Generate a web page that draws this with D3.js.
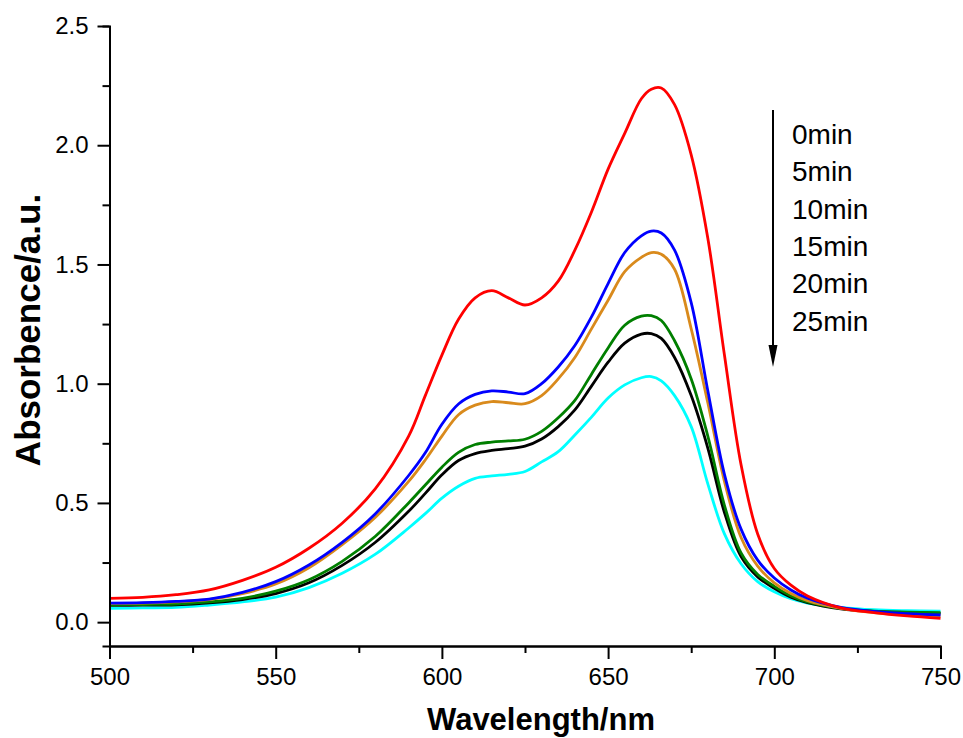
<!DOCTYPE html>
<html>
<head>
<meta charset="utf-8">
<script src="https://cdn.jsdelivr.net/npm/d3@7"></script>
<style>
  body { margin: 0; background: #fff; }
  text { font-family: "Liberation Sans", Arial, sans-serif; }
</style>
</head>
<body>
<div id="container"></div>
<script>
/* CONSTANTS AND DATA */
const width = 963,
  height = 738,
  margin = { top: 26, bottom: 92, left: 109.5, right: 22.5 };

const wavelength = [500, 510, 520, 530, 540, 550, 560, 570, 580, 590, 595, 600, 605, 610, 615, 620, 625, 630, 635, 640,
  645, 650, 655, 660, 663, 666, 670, 675, 680, 685, 690, 695, 700, 705, 710, 720, 730, 740, 750];

const min0 = [0.100, 0.104, 0.115, 0.135, 0.175, 0.230, 0.310, 0.415, 0.560, 0.780, 0.950, 1.120, 1.270, 1.360, 1.390, 1.360, 1.330, 1.360, 1.430, 1.560,
  1.720, 1.900, 2.050, 2.195, 2.235, 2.240, 2.170, 1.960, 1.610, 1.120, 0.660, 0.370, 0.225, 0.155, 0.110, 0.060, 0.040, 0.026, 0.016];
const min5 = [0.080, 0.082, 0.087, 0.097, 0.125, 0.170, 0.240, 0.335, 0.455, 0.615, 0.710, 0.830, 0.915, 0.955, 0.970, 0.965, 0.958, 1.000, 1.070, 1.160,
  1.280, 1.420, 1.550, 1.620, 1.640, 1.632, 1.560, 1.340, 0.970, 0.620, 0.390, 0.260, 0.185, 0.135, 0.100, 0.062, 0.045, 0.036, 0.030];
const min10 = [0.078, 0.080, 0.085, 0.095, 0.120, 0.160, 0.228, 0.325, 0.440, 0.590, 0.680, 0.780, 0.870, 0.910, 0.925, 0.920, 0.916, 0.950, 1.020, 1.110,
  1.230, 1.350, 1.470, 1.530, 1.550, 1.543, 1.480, 1.230, 0.920, 0.590, 0.355, 0.235, 0.165, 0.120, 0.090, 0.058, 0.040, 0.030, 0.025];
const min15 = [0.072, 0.074, 0.076, 0.085, 0.100, 0.130, 0.178, 0.255, 0.360, 0.500, 0.575, 0.650, 0.712, 0.745, 0.755, 0.760, 0.767, 0.800, 0.857, 0.930,
  1.040, 1.150, 1.245, 1.283, 1.285, 1.265, 1.180, 1.020, 0.780, 0.490, 0.290, 0.200, 0.150, 0.110, 0.085, 0.058, 0.046, 0.042, 0.040];
const min20 = [0.070, 0.071, 0.073, 0.081, 0.095, 0.120, 0.165, 0.238, 0.335, 0.465, 0.540, 0.618, 0.678, 0.707, 0.720, 0.728, 0.738, 0.768, 0.820, 0.890,
  0.990, 1.090, 1.170, 1.208, 1.210, 1.190, 1.110, 0.950, 0.730, 0.460, 0.275, 0.190, 0.142, 0.105, 0.082, 0.056, 0.045, 0.040, 0.037];
const min25 = [0.058, 0.060, 0.062, 0.072, 0.085, 0.105, 0.145, 0.205, 0.285, 0.395, 0.455, 0.520, 0.570, 0.603, 0.613, 0.620, 0.632, 0.672, 0.715, 0.785,
  0.860, 0.940, 0.995, 1.025, 1.030, 1.012, 0.950, 0.820, 0.580, 0.370, 0.245, 0.170, 0.127, 0.098, 0.080, 0.062, 0.052, 0.048, 0.046];

const legendLabels = ["0min", "5min", "10min", "15min", "20min", "25min"];
const colors = ["#FF0000", "#0000FF", "#D98A1C", "#007F00", "#000000", "#00FFFF"];
const xTicks = [500, 550, 600, 650, 700, 750];
const yTicks = [0.0, 0.5, 1.0, 1.5, 2.0, 2.5];

const seriesData = [min0, min5, min10, min15, min20, min25].map((vals, i) => ({
  label: legendLabels[i],
  color: colors[i],
  values: vals.map((v, j) => ({ w: wavelength[j], a: v }))
}));

/* SCALES */
const xScale = d3.scaleLinear()
  .domain([500, 750])
  .range([margin.left, width - margin.right]);

const yScale = d3.scaleLinear()
  .domain([-0.1, 2.5])
  .range([height - margin.bottom, margin.top]);

/* SVG */
const svg = d3.select("#container")
  .append("svg")
  .attr("width", width)
  .attr("height", height);

/* LINES */
const line = d3.line()
  .x(d => xScale(d.w))
  .y(d => yScale(d.a))
  .curve(d3.curveCatmullRom.alpha(0.5));

// draw 25min first so the 0min (red) curve ends up on top
svg.selectAll("path.spec")
  .data(seriesData.slice().reverse())
  .join("path")
  .attr("class", "spec")
  .attr("d", d => line(d.values))
  .attr("fill", "none")
  .attr("stroke", d => d.color)
  .attr("stroke-width", 2.8)
  .attr("stroke-linejoin", "round");

/* AXES */
const minorX = d3.range(525, 750, 50);
const minorY = d3.range(0.25, 2.5, 0.5);

const styleAxis = g => {
  g.attr("font-size", 24).attr("font-family", "'Liberation Sans', Arial, sans-serif");
  g.select(".domain").attr("stroke-width", 2);
  g.selectAll(".tick line").attr("stroke-width", 2);
  g.selectAll(".tick text").style("font-size", "24px").attr("fill", "#000");
};

svg.append("g")
  .attr("transform", `translate(0,${height - margin.bottom})`)
  .call(d3.axisBottom(xScale).tickValues(minorX).tickSize(7).tickFormat(""))
  .call(styleAxis);

svg.append("g")
  .attr("transform", `translate(0,${height - margin.bottom})`)
  .call(d3.axisBottom(xScale).tickValues(xTicks).tickSize(13).tickPadding(9).tickSizeOuter(0).tickFormat(d3.format("d")))
  .call(styleAxis);

svg.append("g")
  .attr("transform", `translate(${margin.left},0)`)
  .call(d3.axisLeft(yScale).tickValues(minorY).tickSize(7).tickFormat(""))
  .call(styleAxis);

svg.append("g")
  .attr("transform", `translate(${margin.left},0)`)
  .call(d3.axisLeft(yScale).tickValues(yTicks).tickSize(12).tickPadding(9).tickSizeOuter(0).tickFormat(d3.format(".1f")))
  .call(styleAxis);

/* AXIS TITLES */
svg.append("text")
  .attr("x", 541)
  .attr("y", 730)
  .attr("text-anchor", "middle")
  .attr("font-size", 31)
  .attr("font-weight", "bold")
  .text("Wavelength/nm");

svg.append("text")
  .attr("transform", "translate(40,330) rotate(-90)")
  .attr("text-anchor", "middle")
  .attr("font-size", 35)
  .attr("font-weight", "bold")
  .text("Absorbence/a.u.");

/* LEGEND: arrow + time labels */
svg.append("line")
  .attr("x1", 773).attr("x2", 773)
  .attr("y1", 110).attr("y2", 350)
  .attr("stroke", "#000")
  .attr("stroke-width", 2);

svg.append("path")
  .attr("d", "M768.5,345 L777.5,345 L773,367 Z")
  .attr("fill", "#000");

svg.selectAll("text.leg")
  .data(legendLabels)
  .join("text")
  .attr("class", "leg")
  .attr("x", 792)
  .attr("y", (d, i) => 144 + i * 37.3)
  .attr("font-size", 28)
  .text(d => d);
</script>
</body>
</html>
